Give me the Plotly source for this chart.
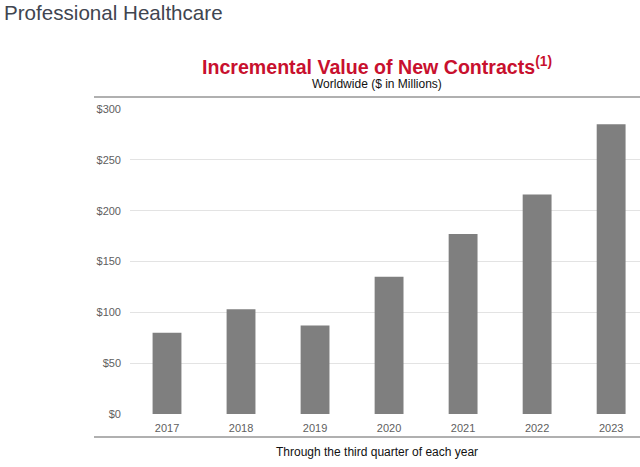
import plotly.graph_objects as go

years = ["2017", "2018", "2019", "2020", "2021", "2022", "2023"]
values = [80, 103, 87, 135, 177, 216, 285]
y_ticks = [0, 50, 100, 150, 200, 250, 300]
y_labels = ["$0", "$50", "$100", "$150", "$200", "$250", "$300"]

W, H = 640, 467
L, R, T, B = 130, 0, 109, 53
pw = W - L - R
ph = H - T - B

def px(x):
    return (x - L) / pw

def py(y):
    return 1 - (y - T) / ph

fig = go.Figure()
fig.add_trace(go.Bar(x=years, y=values, marker_color="#7f7f7f", width=0.39,
                     marker_line_width=0))

fig.update_layout(
    width=W, height=H,
    margin=dict(l=L, r=R, t=T, b=B),
    paper_bgcolor="white", plot_bgcolor="white",
    font=dict(family="Liberation Sans, Arial, sans-serif", color="#606060"),
    showlegend=False,
)
fig.update_xaxes(type="category", range=[-0.5, 6.39], showgrid=False, showline=False,
                 ticks="", tickfont=dict(size=11, color="#606060"), ticklabelstandoff=6)
fig.update_yaxes(range=[0, 300], autorange=False, tickvals=y_ticks, ticktext=y_labels,
                 showgrid=True, gridcolor="#e3e3e3", gridwidth=1, zeroline=False,
                 showline=False, ticks="", tickfont=dict(size=11, color="#606060"),
                 ticklabelstandoff=8)

line_color = "#b0b0b0"
fig.add_shape(type="line", xref="paper", yref="paper", x0=px(94), x1=px(640),
              y0=py(97), y1=py(97), line=dict(color=line_color, width=2))
fig.add_shape(type="line", xref="paper", yref="paper", x0=px(94), x1=px(640),
              y0=py(437), y1=py(437), line=dict(color=line_color, width=2))

fig.add_annotation(text="Professional Healthcare", xref="paper", yref="paper",
                   x=px(2), y=py(13), xanchor="left", yanchor="middle", showarrow=False,
                   font=dict(size=20.6, color="#3f4550"))
fig.add_annotation(text="<b>Incremental Value of New Contracts<sup>(1)</sup></b>",
                   xref="paper", yref="paper", x=px(376.5), y=py(66), xanchor="center",
                   yanchor="middle", showarrow=False, font=dict(size=19.6, color="#c8102e"))
fig.add_annotation(text="Worldwide ($ in Millions)", xref="paper", yref="paper",
                   x=px(376.5), y=py(84), xanchor="center", yanchor="middle",
                   showarrow=False, font=dict(size=12, color="#111111"))
fig.add_annotation(text="Through the third quarter of each year", xref="paper", yref="paper",
                   x=px(376.5), y=py(452), xanchor="center", yanchor="middle",
                   showarrow=False, font=dict(size=12, color="#111111"))

fig.write_html("out.html", config={"displayModeBar": False},
               post_script="document.body.style.margin='0';document.body.style.overflow='hidden';")
